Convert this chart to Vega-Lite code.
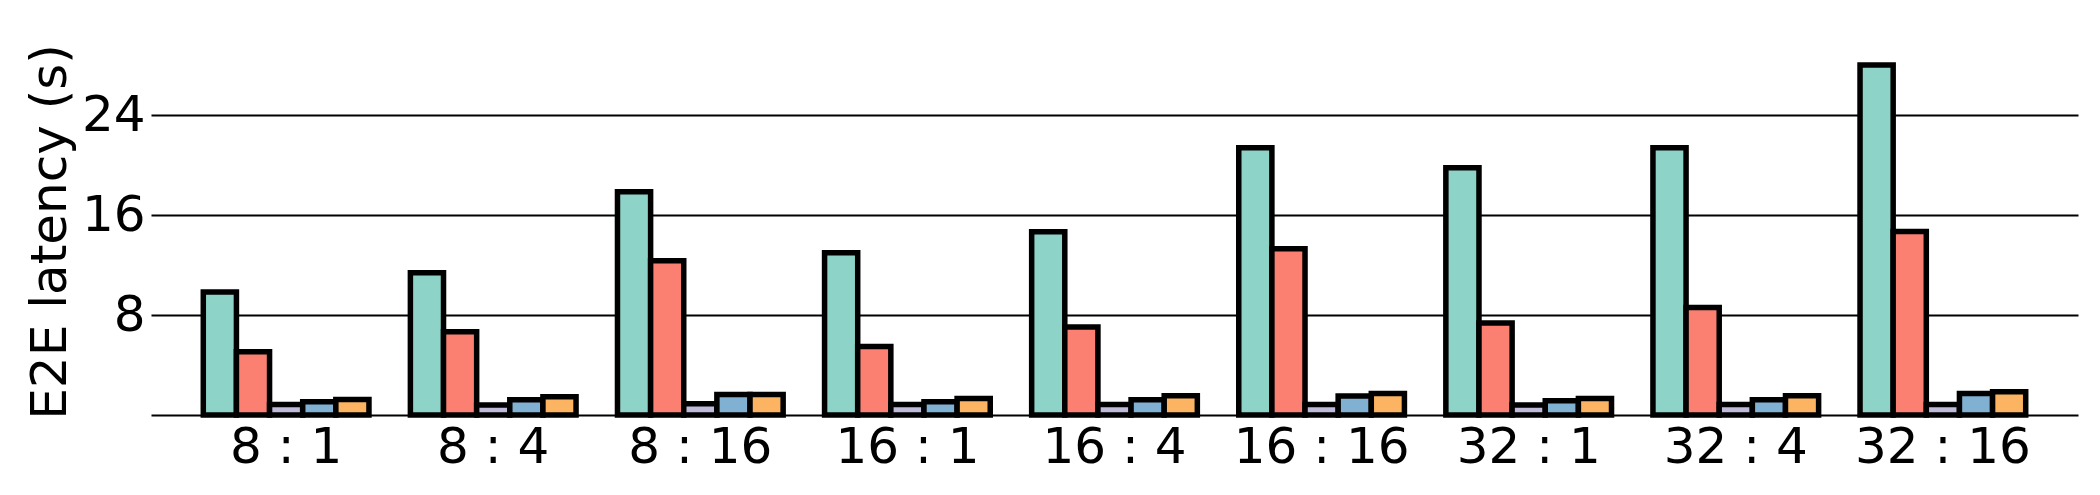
{
  "$schema": "https://vega.github.io/schema/vega-lite/v6.json",
  "autosize": {"type": "none"},
  "padding": {"left": 151, "top": 48, "right": 22, "bottom": 80},
  "width": 1927,
  "height": 367,
  "background": "white",
  "config": {"view": {"stroke": null}, "font": "DejaVu Sans"},
  "data": {
    "values": [
      {"config": "8 : 1", "system": "S1", "latency": 9.84},
      {"config": "8 : 1", "system": "S2", "latency": 5.06},
      {"config": "8 : 1", "system": "S3", "latency": 0.85},
      {"config": "8 : 1", "system": "S4", "latency": 1.07},
      {"config": "8 : 1", "system": "S5", "latency": 1.25},
      {"config": "8 : 4", "system": "S1", "latency": 11.38},
      {"config": "8 : 4", "system": "S2", "latency": 6.66},
      {"config": "8 : 4", "system": "S3", "latency": 0.8},
      {"config": "8 : 4", "system": "S4", "latency": 1.22},
      {"config": "8 : 4", "system": "S5", "latency": 1.46},
      {"config": "8 : 16", "system": "S1", "latency": 17.86},
      {"config": "8 : 16", "system": "S2", "latency": 12.34},
      {"config": "8 : 16", "system": "S3", "latency": 0.9},
      {"config": "8 : 16", "system": "S4", "latency": 1.65},
      {"config": "8 : 16", "system": "S5", "latency": 1.65},
      {"config": "16 : 1", "system": "S1", "latency": 12.98},
      {"config": "16 : 1", "system": "S2", "latency": 5.49},
      {"config": "16 : 1", "system": "S3", "latency": 0.85},
      {"config": "16 : 1", "system": "S4", "latency": 1.07},
      {"config": "16 : 1", "system": "S5", "latency": 1.33},
      {"config": "16 : 4", "system": "S1", "latency": 14.66},
      {"config": "16 : 4", "system": "S2", "latency": 7.04},
      {"config": "16 : 4", "system": "S3", "latency": 0.85},
      {"config": "16 : 4", "system": "S4", "latency": 1.22},
      {"config": "16 : 4", "system": "S5", "latency": 1.55},
      {"config": "16 : 16", "system": "S1", "latency": 21.38},
      {"config": "16 : 16", "system": "S2", "latency": 13.3},
      {"config": "16 : 16", "system": "S3", "latency": 0.85},
      {"config": "16 : 16", "system": "S4", "latency": 1.52},
      {"config": "16 : 16", "system": "S5", "latency": 1.73},
      {"config": "32 : 1", "system": "S1", "latency": 19.78},
      {"config": "32 : 1", "system": "S2", "latency": 7.36},
      {"config": "32 : 1", "system": "S3", "latency": 0.8},
      {"config": "32 : 1", "system": "S4", "latency": 1.14},
      {"config": "32 : 1", "system": "S5", "latency": 1.33},
      {"config": "32 : 4", "system": "S1", "latency": 21.38},
      {"config": "32 : 4", "system": "S2", "latency": 8.61},
      {"config": "32 : 4", "system": "S3", "latency": 0.85},
      {"config": "32 : 4", "system": "S4", "latency": 1.22},
      {"config": "32 : 4", "system": "S5", "latency": 1.54},
      {"config": "32 : 16", "system": "S1", "latency": 28.0},
      {"config": "32 : 16", "system": "S2", "latency": 14.69},
      {"config": "32 : 16", "system": "S3", "latency": 0.85},
      {"config": "32 : 16", "system": "S4", "latency": 1.73},
      {"config": "32 : 16", "system": "S5", "latency": 1.87}
    ]
  },
  "mark": {"type": "bar", "stroke": "black", "strokeWidth": 5.5, "strokeJoin": "miter"},
  "encoding": {
    "x": {
      "field": "config",
      "type": "nominal",
      "sort": ["8 : 1", "8 : 4", "8 : 16", "16 : 1", "16 : 4", "16 : 16", "32 : 1", "32 : 4", "32 : 16"],
      "scale": {"paddingInner": 0.2, "paddingOuter": 0.2525},
      "axis": {
        "title": null,
        "labelAngle": 0,
        "labelFontSize": 50,
        "labelColor": "black",
        "ticks": false,
        "tickSize": 0,
        "domain": true,
        "domainColor": "black",
        "domainWidth": 1.8,
        "labelPadding": 7,
        "grid": false
      }
    },
    "xOffset": {
      "field": "system",
      "type": "nominal",
      "sort": ["S1", "S2", "S3", "S4", "S5"],
      "scale": {"paddingInner": 0, "paddingOuter": 0}
    },
    "y": {
      "field": "latency",
      "type": "quantitative",
      "scale": {"domain": [0, 29.36], "nice": false, "zero": true},
      "axis": {
        "values": [8, 16, 24],
        "grid": true,
        "gridColor": "black",
        "gridWidth": 1.8,
        "domain": false,
        "ticks": false,
        "tickSize": 0,
        "labelFontSize": 50,
        "labelColor": "black",
        "labelPadding": 6,
        "title": "E2E latency (s)",
        "titleFontSize": 50,
        "titleFontWeight": "normal",
        "titleColor": "black",
        "titlePadding": 6
      }
    },
    "color": {
      "field": "system",
      "type": "nominal",
      "scale": {
        "domain": ["S1", "S2", "S3", "S4", "S5"],
        "range": ["#8dd3c7", "#fb8072", "#bebada", "#80b1d3", "#fdb462"]
      },
      "legend": null
    }
  }
}
